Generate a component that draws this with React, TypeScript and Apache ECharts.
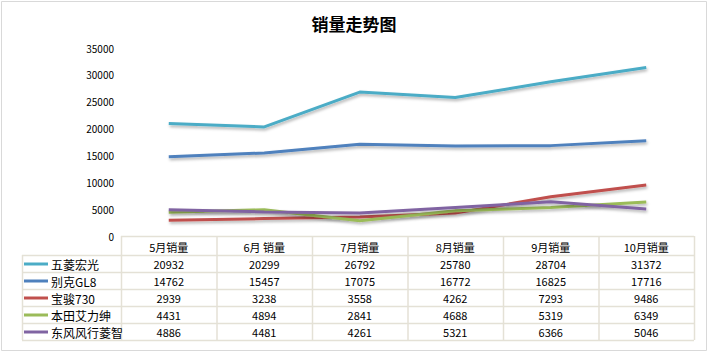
import React, { useEffect, useRef } from "react";
import * as echarts from "echarts";

const categories = ["5月销量", "6月 销量", "7月销量", "8月销量", "9月销量", "10月销量"];
const seriesNames = ["五菱宏光", "别克GL8", "宝骏730", "本田艾力绅", "东风风行菱智"];
const wuling = [20932, 20299, 26792, 25780, 28704, 31372];
const buick = [14762, 15457, 17075, 16772, 16825, 17716];
const baojun = [2939, 3238, 3558, 4262, 7293, 9486];
const honda = [4431, 4894, 2841, 4688, 5319, 6349];
const dongfeng = [4886, 4481, 4261, 5321, 6366, 5046];
const seriesValues = [wuling, buick, baojun, honda, dongfeng];
const colors = ["#4BACC6", "#4F81BD", "#C0504D", "#9BBB59", "#8064A2"];
const yTicks = { min: 0, max: 35000, interval: 5000 };

const W = 708;
const H = 354;
const PLOT_L = 121;
const PLOT_R = 694;
const PLOT_T = 48;
const PLOT_B = 236;
const LEG_L = 22;
const HEADER_H = 19;
const ROW_H = 17;
const BORDER = "#E4E1D6";
const FONT = "'Noto Sans CJK SC', 'Noto Sans', sans-serif";

export default function App() {
  const ref = useRef<HTMLDivElement>(null);
  useEffect(() => {
    if (!ref.current) return;
    const chart = echarts.init(ref.current, undefined, { renderer: "svg" });
    const colW = (PLOT_R - PLOT_L) / categories.length;
    const tableTop = PLOT_B;
    const rowsTop = tableTop + HEADER_H;
    const tableBottom = rowsTop + ROW_H * seriesNames.length;
    const graphics: any[] = [];
    graphics.push({
      type: "rect",
      shape: { x: 1.5, y: 1.5, width: W - 3, height: H - 5 },
      style: { fill: "none", stroke: "#D9D9D9", lineWidth: 1 },
      silent: true,
    });
    graphics.push({
      type: "line",
      shape: { x1: PLOT_L, y1: tableTop + 0.5, x2: PLOT_R, y2: tableTop + 0.5 },
      style: { stroke: BORDER, lineWidth: 1.5 },
    });
    for (let i = 0; i <= seriesNames.length; i++) {
      const y = rowsTop + i * ROW_H + 0.5;
      graphics.push({
        type: "line",
        shape: { x1: LEG_L, y1: y, x2: PLOT_R, y2: y },
        style: { stroke: BORDER, lineWidth: 1.5 },
      });
    }
    graphics.push({
      type: "line",
      shape: { x1: LEG_L + 0.5, y1: rowsTop, x2: LEG_L + 0.5, y2: tableBottom },
      style: { stroke: BORDER, lineWidth: 1.5 },
    });
    for (let c = 0; c <= categories.length; c++) {
      const x = PLOT_L + c * colW + 0.5;
      graphics.push({
        type: "line",
        shape: { x1: x, y1: tableTop, x2: x, y2: tableBottom },
        style: { stroke: BORDER, lineWidth: 1.5 },
      });
    }
    categories.forEach((cat, c) => {
      graphics.push({
        type: "text",
        x: PLOT_L + (c + 0.5) * colW,
        y: tableTop + HEADER_H / 2 + 1,
        style: {
          text: cat,
          fill: "#000",
          font: `11px ${FONT}`,
          textAlign: "center",
          textVerticalAlign: "middle",
        },
      });
    });
    seriesNames.forEach((name, r) => {
      const cy = rowsTop + (r + 0.5) * ROW_H + 0.5;
      graphics.push({
        type: "line",
        shape: { x1: LEG_L + 2, y1: cy, x2: LEG_L + 26, y2: cy },
        style: { stroke: colors[r], lineWidth: 3 },
      });
      graphics.push({
        type: "text",
        x: LEG_L + 29,
        y: cy,
        style: {
          text: name,
          fill: "#000",
          font: `12px ${FONT}`,
          textAlign: "left",
          textVerticalAlign: "middle",
        },
      });
      seriesValues[r].forEach((v, c) => {
        graphics.push({
          type: "text",
          x: PLOT_L + (c + 0.5) * colW,
          y: cy,
          style: {
            text: String(v),
            fill: "#000",
            font: `11px ${FONT}`,
            textAlign: "center",
            textVerticalAlign: "middle",
          },
        });
      });
    });

    chart.setOption({
      animation: false,
      backgroundColor: "#fff",
      title: {
        text: "销量走势图",
        left: "center",
        top: 10,
        textStyle: { fontSize: 17, fontWeight: "bold", color: "#000", fontFamily: FONT },
      },
      grid: { left: PLOT_L, right: W - PLOT_R, top: PLOT_T, bottom: H - PLOT_B, containLabel: false },
      xAxis: {
        type: "category",
        data: categories,
        boundaryGap: true,
        axisLine: { show: false },
        axisTick: { show: false },
        axisLabel: { show: false },
        splitLine: { show: false },
      },
      yAxis: {
        type: "value",
        min: yTicks.min,
        max: yTicks.max,
        interval: yTicks.interval,
        axisLine: { show: false },
        axisTick: { show: false },
        splitLine: { show: false },
        axisLabel: {
          color: "#000",
          fontSize: 10,
          fontFamily: FONT,
          margin: 7,
          formatter: (v: number) => String(v),
        },
      },
      series: seriesNames.map((name, i) => ({
        name,
        type: "line",
        data: seriesValues[i],
        symbol: "none",
        lineStyle: {
          color: colors[i],
          width: 3,
          shadowColor: "rgba(0,0,0,0.3)",
          shadowBlur: 3,
          shadowOffsetX: 1,
          shadowOffsetY: 2,
        },
        itemStyle: { color: colors[i] },
      })),
      graphic: graphics,
    });
    return () => chart.dispose();
  }, []);
  return (
    <div
      ref={ref}
      style={{ position: "absolute", left: 0, top: 0, width: W, height: H }}
    />
  );
}
